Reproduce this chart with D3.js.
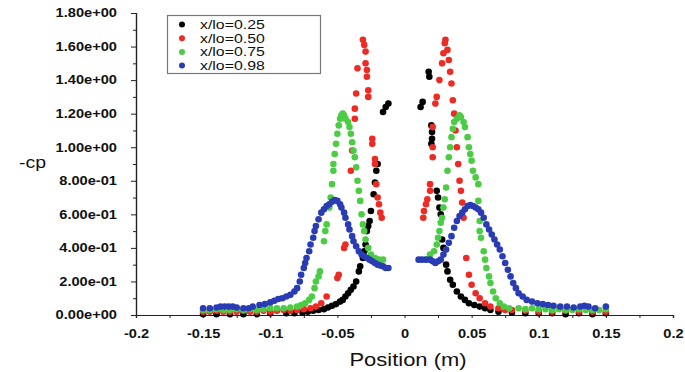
<!DOCTYPE html>
<html>
<head>
<meta charset="utf-8">
<script src="https://cdn.jsdelivr.net/npm/d3@7"></script>
<style>
  html, body { margin: 0; padding: 0; background: #fff; }
  svg { display: block; }
  text { font-family: "Liberation Sans", Arial, sans-serif; fill: #111; }
</style>
</head>
<body>
<svg id="chart" width="685" height="372"></svg>
<script>
// ---------- DATA ----------
const seriesNames = ["x/lo=0.25", "x/lo=0.50", "x/lo=0.75", "x/lo=0.98"];
const seriesColors = ["#000000", "#ec2c24", "#4ccc44", "#2a3cb4"];

// [position (m), -cp]
const data025 = [
  [-0.150,0.005],[-0.140,0.005],[-0.130,0.005],[-0.120,0.005],[-0.110,0.005],[-0.100,0.01],
  [-0.088,0.01],[-0.082,0.01],[-0.076,0.015],[-0.072,0.02],[-0.068,0.025],[-0.064,0.03],
  [-0.060,0.035],[-0.057,0.045],[-0.054,0.055],[-0.051,0.065],[-0.048,0.08],[-0.046,0.09],
  [-0.044,0.11],[-0.042,0.13],[-0.040,0.15],[-0.038,0.17],[-0.036,0.20],[-0.034,0.26],
  [-0.033,0.29],[-0.031,0.34],[-0.030,0.38],[-0.029,0.42],[-0.028,0.50],[-0.027,0.53],
  [-0.026,0.56],[-0.025,0.62],[-0.023,0.72],[-0.022,0.79],[-0.021,0.86],[-0.020,0.90],
  [-0.016,1.21],[-0.014,1.24],[-0.012,1.26],
  [0.012,1.24],[0.0135,1.27],[0.018,1.45],[0.0185,1.42],[0.020,1.13],[0.0205,1.09],
  [0.0205,1.05],[0.020,1.02],[0.024,0.74],[0.025,0.70],[0.026,0.64],[0.027,0.60],
  [0.028,0.45],[0.029,0.40],[0.031,0.30],[0.032,0.26],[0.034,0.21],[0.036,0.18],
  [0.039,0.14],[0.042,0.11],[0.045,0.09],[0.048,0.07],[0.052,0.06],[0.056,0.05],
  [0.060,0.04],[0.064,0.03],[0.070,0.02],[0.080,0.015],[0.090,0.01],[0.100,0.01],
  [0.110,0.01],[0.120,0.005],[0.130,0.01],[0.140,0.005],[0.150,0.01]
];
const data050 = [
  [-0.150,0.02],[-0.145,0.02],[-0.140,0.025],[-0.135,0.02],[-0.130,0.02],[-0.125,0.02],
  [-0.120,0.025],[-0.115,0.02],[-0.110,0.02],[-0.105,0.025],[-0.100,0.02],[-0.095,0.025],
  [-0.090,0.03],[-0.085,0.025],[-0.080,0.03],[-0.075,0.035],[-0.070,0.04],[-0.066,0.05],
  [-0.062,0.07],[-0.058,0.11],[-0.050,0.22],[-0.049,0.24],[-0.045,0.40],[-0.044,0.42],
  [-0.040,0.86],[-0.039,0.98],[-0.037,1.17],[-0.037,1.23],[-0.036,1.32],[-0.035,1.47],
  [-0.031,1.64],[-0.030,1.61],[-0.029,1.57],[-0.029,1.50],[-0.028,1.46],[-0.028,1.42],
  [-0.027,1.34],[-0.027,1.30],[-0.024,1.05],[-0.024,1.02],[-0.022,0.93],[-0.022,0.90],
  [-0.021,0.78],[-0.020,0.70],[-0.019,0.66],[-0.018,0.61],[-0.017,0.58],
  [0.014,0.58],[0.0145,0.62],[0.016,0.66],[0.017,0.69],[0.019,0.74],[0.019,0.78],
  [0.021,0.94],[0.021,1.00],[0.021,1.12],[0.023,1.26],[0.024,1.30],[0.026,1.40],
  [0.028,1.50],[0.029,1.56],[0.030,1.62],[0.0305,1.64],
  [0.032,1.58],[0.033,1.52],[0.034,1.45],[0.035,1.38],[0.036,1.28],[0.037,1.20],
  [0.038,1.10],[0.039,1.00],[0.040,0.90],[0.041,0.80],[0.042,0.74],[0.043,0.67],
  [0.044,0.58],[0.046,0.34],[0.048,0.24],[0.050,0.18],[0.053,0.13],[0.056,0.10],
  [0.060,0.07],[0.064,0.05],[0.070,0.04],[0.075,0.03],[0.080,0.03],[0.090,0.025],
  [0.100,0.02],[0.110,0.02],[0.120,0.025],[0.130,0.02],[0.140,0.02],[0.150,0.02]
];
const data075 = [
  [-0.150,0.03],[-0.145,0.03],[-0.140,0.035],[-0.135,0.03],[-0.130,0.03],[-0.125,0.035],
  [-0.120,0.03],[-0.115,0.035],[-0.110,0.03],[-0.105,0.035],[-0.100,0.04],[-0.095,0.04],
  [-0.090,0.04],[-0.085,0.045],[-0.080,0.05],[-0.077,0.06],[-0.074,0.07],[-0.071,0.09],
  [-0.069,0.11],[-0.067,0.16],[-0.066,0.20],[-0.064,0.23],[-0.063,0.26],
  [-0.060,0.44],[-0.059,0.50],[-0.058,0.54],[-0.056,0.64],[-0.055,0.70],[-0.054,0.78],
  [-0.053,0.86],[-0.053,0.90],[-0.052,0.96],[-0.051,1.02],[-0.050,1.08],[-0.049,1.13],
  [-0.048,1.17],[-0.047,1.19],[-0.046,1.20],[-0.045,1.19],
  [-0.044,1.17],[-0.042,1.15],[-0.041,1.12],[-0.040,1.08],[-0.039,1.03],[-0.038,0.98],
  [-0.037,0.94],[-0.036,0.88],[-0.035,0.80],[-0.034,0.74],[-0.033,0.68],[-0.032,0.60],
  [-0.031,0.54],[-0.030,0.50],[-0.029,0.45],[-0.027,0.40],[-0.025,0.36],[-0.022,0.34],
  [-0.019,0.33],[-0.016,0.33],
  [0.016,0.33],[0.019,0.36],[0.022,0.38],[0.024,0.42],[0.025,0.46],[0.026,0.50],
  [0.027,0.55],[0.028,0.58],[0.029,0.64],[0.030,0.69],[0.031,0.76],[0.032,0.86],
  [0.033,0.94],[0.034,1.00],[0.035,1.06],[0.036,1.11],[0.037,1.15],[0.039,1.17],
  [0.041,1.19],[0.042,1.18],
  [0.044,1.15],[0.045,1.12],[0.047,1.06],[0.048,1.00],[0.049,0.96],[0.050,0.92],
  [0.051,0.86],[0.053,0.82],[0.055,0.78],[0.055,0.68],[0.056,0.56],[0.056,0.50],
  [0.057,0.46],[0.059,0.38],[0.060,0.33],[0.061,0.28],[0.063,0.23],[0.064,0.19],
  [0.066,0.14],[0.068,0.10],[0.071,0.07],[0.074,0.05],[0.078,0.04],[0.085,0.04],
  [0.090,0.035],[0.095,0.04],[0.100,0.035],[0.105,0.035],[0.110,0.03],[0.115,0.035],
  [0.120,0.03],[0.125,0.03],[0.130,0.035],[0.135,0.03],[0.140,0.03],[0.145,0.03],[0.150,0.035]
];
const data098 = [
  [-0.150,0.04],[-0.145,0.04],[-0.140,0.045],[-0.137,0.05],[-0.134,0.05],[-0.131,0.05],
  [-0.128,0.05],[-0.125,0.045],[-0.120,0.04],[-0.116,0.04],[-0.113,0.05],[-0.108,0.06],
  [-0.104,0.065],[-0.100,0.075],[-0.097,0.085],[-0.094,0.095],[-0.091,0.10],[-0.088,0.11],
  [-0.085,0.12],[-0.082,0.14],[-0.080,0.16],[-0.078,0.20],[-0.077,0.24],[-0.075,0.28],
  [-0.074,0.31],[-0.073,0.34],[-0.071,0.38],[-0.070,0.42],[-0.068,0.46],[-0.067,0.50],
  [-0.066,0.53],[-0.064,0.57],[-0.062,0.61],[-0.060,0.63],[-0.058,0.65],[-0.056,0.66],
  [-0.054,0.675],[-0.052,0.685],[-0.050,0.68],[-0.048,0.66],[-0.047,0.64],[-0.045,0.61],
  [-0.044,0.58],[-0.042,0.54],[-0.041,0.51],[-0.039,0.47],[-0.038,0.44],[-0.036,0.41],
  [-0.034,0.38],[-0.032,0.36],[-0.030,0.35],[-0.028,0.34],[-0.026,0.33],[-0.024,0.32],
  [-0.022,0.31],[-0.020,0.30],[-0.018,0.295],[-0.016,0.29],[-0.014,0.28],[-0.012,0.28],
  [0.0105,0.33],[0.013,0.33],[0.016,0.33],[0.019,0.33],[0.021,0.32],[0.023,0.31],
  [0.025,0.32],[0.027,0.33],[0.029,0.36],[0.031,0.39],[0.033,0.43],[0.035,0.47],
  [0.037,0.52],[0.039,0.56],[0.041,0.59],[0.043,0.61],[0.045,0.63],[0.047,0.65],
  [0.049,0.655],[0.051,0.65],[0.053,0.64],[0.055,0.63],[0.057,0.61],[0.059,0.58],
  [0.061,0.54],[0.063,0.51],[0.065,0.48],[0.067,0.45],[0.069,0.42],[0.071,0.39],
  [0.073,0.35],[0.075,0.31],[0.077,0.27],[0.079,0.23],[0.081,0.19],[0.083,0.16],
  [0.085,0.13],[0.088,0.11],[0.091,0.09],[0.095,0.08],[0.099,0.07],[0.103,0.065],
  [0.107,0.06],[0.111,0.055],[0.116,0.05],[0.121,0.05],[0.126,0.045],[0.131,0.05],
  [0.134,0.055],[0.137,0.05],[0.142,0.04],[0.150,0.05]
];
const seriesData = [data025, data050, data075, data098];

const xTicks = [-0.2, -0.15, -0.1, -0.05, 0, 0.05, 0.1, 0.15, 0.2];
const xTickLabels = ["-0.2", "-0.15", "-0.1", "-0.05", "0", "0.05", "0.1", "0.15", "0.2"];
const xMinorTicks = [-0.175, -0.125, -0.075, -0.025, 0.025, 0.075, 0.125, 0.175];
const yTicks = [0, 0.2, 0.4, 0.6, 0.8, 1.0, 1.2, 1.4, 1.6, 1.8];
const yTickLabels = ["0.00e+00", "2.00e-01", "4.00e-01", "6.00e-01", "8.00e-01",
                     "1.00e+00", "1.20e+00", "1.40e+00", "1.60e+00", "1.80e+00"];
const yMinorTicks = [0.1, 0.3, 0.5, 0.7, 0.9, 1.1, 1.3, 1.5, 1.7];
const xTitle = "Position (m)";
const yTitle = "-cp";

// ---------- CHART ----------
const svg = d3.select("#chart");
const SX = 1.22; // horizontal stretch of the text in the reference

const x = d3.scaleLinear().domain([-0.2, 0.2]).range([136, 673]);
const y = d3.scaleLinear().domain([0, 1.8]).range([315, 13]);

function styleAxis(g) {
  g.selectAll(".domain").attr("stroke", "#222").attr("stroke-width", 1.2);
  g.selectAll(".tick line").attr("stroke", "#222").attr("stroke-width", 1);
}

// minor ticks
svg.append("g").attr("transform", "translate(136,0)")
  .call(d3.axisLeft(y).tickValues(yMinorTicks).tickSize(3).tickFormat(""))
  .call(styleAxis);
svg.append("g").attr("transform", "translate(0,315)")
  .call(d3.axisBottom(x).tickValues(xMinorTicks).tickSize(3).tickFormat(""))
  .call(styleAxis);

// y axis
const yAxis = svg.append("g").attr("transform", "translate(136,0)")
  .call(d3.axisLeft(y).tickValues(yTicks).tickSize(5).tickPadding(14)
        .tickFormat((d, i) => yTickLabels[i]))
  .call(styleAxis);
yAxis.selectAll(".tick text")
  .attr("font-family", "Liberation Sans, Arial, sans-serif")
  .attr("font-size", 12).attr("font-weight", "bold").attr("fill", "#111")
  .attr("x", -19 / SX).attr("transform", `scale(${SX},1)`);

// x axis
const xAxis = svg.append("g").attr("transform", "translate(0,315)")
  .call(d3.axisBottom(x).tickValues(xTicks).tickSize(3).tickPadding(11)
        .tickFormat((d, i) => xTickLabels[i]))
  .call(styleAxis);
xAxis.selectAll(".tick text")
  .attr("font-family", "Liberation Sans, Arial, sans-serif")
  .attr("font-size", 12).attr("font-weight", "bold").attr("fill", "#111")
  .attr("transform", `scale(${SX},1)`);

// titles
svg.append("text").attr("transform", `translate(408,366) scale(${SX},1)`)
  .attr("text-anchor", "middle").attr("font-size", 18).text(xTitle);
svg.append("text").attr("transform", `translate(19,168) scale(${SX},1)`)
  .attr("font-size", 16).text(yTitle);

// points
seriesData.forEach((data, si) => {
  svg.append("g").selectAll("circle").data(data).join("circle")
    .attr("cx", d => x(d[0])).attr("cy", d => y(d[1])).attr("r", 3.3)
    .attr("fill", seriesColors[si]);
});

// legend
const leg = svg.append("g");
leg.append("rect").attr("x", 167.5).attr("y", 15.5).attr("width", 153).attr("height", 58)
  .attr("fill", "#fff").attr("stroke", "#777").attr("stroke-width", 1.2);
seriesNames.forEach((name, i) => {
  const cy = 24.5 + i * 13.7;
  leg.append("circle").attr("cx", 182).attr("cy", cy).attr("r", 3).attr("fill", seriesColors[i]);
  leg.append("text").attr("transform", `translate(200,${cy + 4.5}) scale(${SX},1)`)
    .attr("font-size", 13).text(name);
});
</script>
</body>
</html>
